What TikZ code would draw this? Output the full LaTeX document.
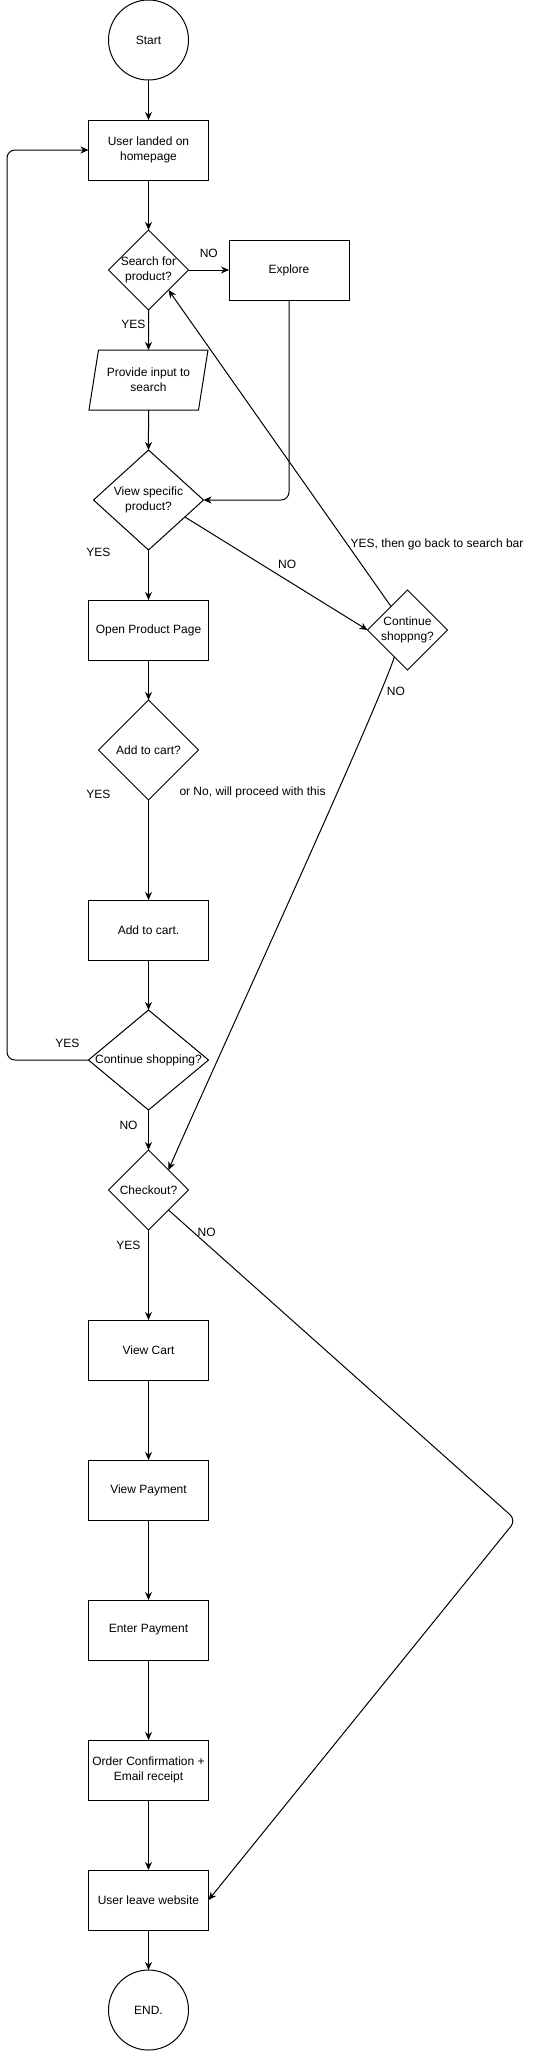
\documentclass[tikz,border=0pt]{standalone}
\usepackage{fontspec}
\setmainfont{Liberation Sans}
\usetikzlibrary{positioning,shapes.geometric,arrows.meta}

\begin{document}
\begin{tikzpicture}[x=1pt, y=-1pt, line width=1pt,
    font=\fontsize{12}{15}\selectfont,
    every node/.style = {outer sep=0pt},
    box/.style = {shape=rectangle, draw, align=center,
      minimum width=120pt, minimum height=60pt, inner sep=2pt},
    term/.style = {shape=circle, draw, minimum size=80pt, inner sep=0pt},
    io/.style = {shape=trapezium, draw, align=center,
      trapezium left angle=71.6, trapezium right angle=108.4,
      trapezium stretches=true, minimum width=120pt, minimum height=60pt,
      inner sep=0pt},
    decision/.style 2 args = {shape=diamond, draw, inner sep=0pt,
      minimum width=#1, minimum height=#2},
    q/.style = {align=center, inner sep=0pt},
    lbl/.style = {inner sep=3pt},
    arr/.style = {-{Stealth[length=8pt, width=7pt, inset=2.5pt]}}]
    \useasboundingbox (0,0) rectangle (538,2051);
    \node[term] (start) at (148.5,40) {Start};
    \node[box, below=40pt of start] (home) {User landed on\\homepage};
    \node[decision={80pt}{80pt}, below=50pt of home,
      label={[q]center:Search for\\product?}] (search) {};
    \node[box, right=40.5pt of search] (explore) {Explore};
    \node[io, below=40pt of search] (input) {Provide input to\\search};
    \node[decision={110pt}{100pt}, below=40pt of input,
      label={[q]center:View specific\\product?}] (view) {};
    \node[box, below=50pt of view] (open) {Open Product Page};
    \node[decision={80pt}{80pt}, right=159pt of open,
      label={[q]center:Continue\\shoppng?}] (cshop) {};
    \node[decision={100pt}{100pt}, below=40pt of open,
      label={[q]center:Add to cart?}] (addq) {};
    \node[box, below=100pt of addq] (addcart) {Add to cart.};
    \node[decision={120pt}{100pt}, below=50pt of addcart,
      label={[q]center:Continue shopping?}] (contq) {};
    \node[decision={80pt}{80pt}, below=40pt of contq,
      label={[q]center:Checkout?}] (check) {};
    \node[box, below=90pt of check] (viewcart) {View Cart};
    \node[box, below=80pt of viewcart] (viewpay) {View Payment};
    \node[box, below=80pt of viewpay] (enterpay) {Enter Payment};
    \node[box, below=80pt of enterpay] (order) {Order Confirmation +\\Email receipt};
    \node[box, below=70pt of order] (leave) {User leave website};
    \node[term, below=40pt of leave] (end) {END.};
    \coordinate (back) at (7,0);
    \coordinate (bend) at (516,1520);

    \draw[arr] (start) -- (home);
    \draw[arr] (home) -- (search);
    \draw[arr] (search) -- node[lbl, pos=0.35, left] {YES} (input);
    \draw[arr] (search) -- node[lbl, above=9pt] {NO} (explore);
    \draw[arr] (input) -- (view);
    \draw[arr, rounded corners=8pt] (explore) |- (view);
    \draw[arr] (view) -- node[lbl, pos=0.04, left=35pt] {YES} (open);
    \draw[arr] (view.-25) -- node[lbl, pos=0.56, above=9pt] {NO} (cshop.west);
    \draw[arr] (cshop.125) -- node[lbl, pos=0.195, anchor=west] {YES, then go back to search bar} (search.-45);
    \draw[arr] (cshop.-116) .. controls +(-20,60) and +(30,-70) .. (check.45)
      node[lbl, pos=0.12, right=3pt] {NO};
    \draw[arr] (open) -- (addq);
    \draw[arr] (addq) -- node[lbl, pos=0, left=35pt, yshift=6pt] {YES}
      node[lbl, pos=0, right=28pt, yshift=8pt] {or No, will proceed with this} (addcart);
    \draw[arr] (addcart) -- (contq);
    \draw[arr, rounded corners=8pt] (contq) -- node[lbl, pos=0.26, above=9pt] {YES}
      (contq -| back) |- (home);
    \draw[arr] (contq) -- node[lbl, pos=0.375, left=8pt] {NO} (check);
    \draw[arr] (check) -- node[lbl, pos=0.167, left=5pt] {YES} (viewcart);
    \draw[arr, rounded corners=8pt] (check.-45) -- node[lbl, pos=0.11, above=5pt] {NO}
      (bend) -- (leave.east);
    \draw[arr] (viewcart) -- (viewpay);
    \draw[arr] (viewpay) -- (enterpay);
    \draw[arr] (enterpay) -- (order);
    \draw[arr] (order) -- (leave);
    \draw[arr] (leave) -- (end);
\end{tikzpicture}
\end{document}
